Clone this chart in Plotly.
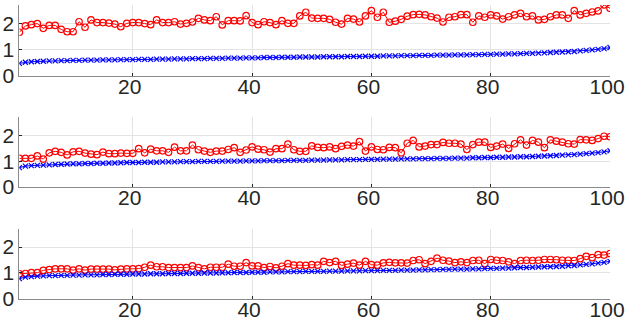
import plotly.graph_objects as go
from plotly.subplots import make_subplots

x = list(range(1, 101))

red_1 = [
    1.66, 1.90, 1.95, 1.99, 1.81, 1.92, 1.92, 1.77, 1.68, 1.68,
    2.06, 1.85, 2.13, 2.03, 2.03, 2.01, 1.97, 1.87, 2.00, 2.03,
    2.03, 1.99, 1.95, 2.13, 2.03, 2.03, 2.06, 1.97, 2.00, 2.05,
    2.19, 2.13, 2.10, 2.25, 1.94, 2.10, 2.10, 2.09, 2.29, 2.03,
    1.95, 2.06, 2.03, 1.95, 2.10, 2.00, 2.00, 2.28, 2.42, 2.20,
    2.19, 2.19, 2.15, 2.04, 1.97, 2.19, 2.16, 2.05, 2.28, 2.48,
    2.23, 2.42, 2.04, 2.08, 2.15, 2.27, 2.33, 2.34, 2.32, 2.25,
    2.20, 2.05, 2.23, 2.25, 2.33, 2.33, 2.04, 2.28, 2.23, 2.32,
    2.28, 2.16, 2.25, 2.32, 2.38, 2.25, 2.28, 2.13, 2.15, 2.25,
    2.32, 2.32, 2.19, 2.48, 2.32, 2.38, 2.43, 2.47, 2.70, 2.57,
]
blue_1 = [
    0.48, 0.52, 0.54, 0.55, 0.56, 0.57, 0.57, 0.58, 0.58, 0.59,
    0.59, 0.60, 0.60, 0.60, 0.61, 0.61, 0.61, 0.62, 0.62, 0.62,
    0.63, 0.63, 0.63, 0.64, 0.64, 0.64, 0.65, 0.65, 0.65, 0.66,
    0.66, 0.66, 0.67, 0.67, 0.67, 0.68, 0.68, 0.68, 0.69, 0.69,
    0.69, 0.70, 0.70, 0.70, 0.71, 0.71, 0.71, 0.72, 0.72, 0.72,
    0.72, 0.73, 0.73, 0.73, 0.73, 0.74, 0.74, 0.74, 0.75, 0.75,
    0.75, 0.76, 0.76, 0.76, 0.77, 0.77, 0.77, 0.78, 0.78, 0.78,
    0.79, 0.79, 0.79, 0.80, 0.80, 0.80, 0.81, 0.81, 0.82, 0.82,
    0.83, 0.83, 0.84, 0.84, 0.85, 0.86, 0.86, 0.87, 0.88, 0.89,
    0.90, 0.91, 0.92, 0.93, 0.95, 0.97, 0.99, 1.01, 1.04, 1.08,
]

red_2 = [
    1.11, 1.11, 1.11, 1.20, 1.08, 1.32, 1.38, 1.34, 1.24, 1.36,
    1.38, 1.31, 1.27, 1.25, 1.35, 1.29, 1.29, 1.31, 1.30, 1.30,
    1.48, 1.32, 1.46, 1.40, 1.40, 1.34, 1.54, 1.40, 1.40, 1.62,
    1.44, 1.39, 1.34, 1.39, 1.39, 1.45, 1.52, 1.34, 1.43, 1.55,
    1.46, 1.44, 1.35, 1.48, 1.48, 1.66, 1.44, 1.38, 1.38, 1.59,
    1.53, 1.52, 1.55, 1.48, 1.57, 1.62, 1.58, 1.75, 1.39, 1.55,
    1.45, 1.44, 1.53, 1.52, 1.32, 1.69, 1.80, 1.55, 1.58, 1.64,
    1.64, 1.72, 1.69, 1.69, 1.66, 1.45, 1.64, 1.73, 1.73, 1.53,
    1.58, 1.66, 1.49, 1.67, 1.82, 1.62, 1.80, 1.73, 1.52, 1.82,
    1.77, 1.73, 1.67, 1.66, 1.83, 1.82, 1.80, 1.87, 1.96, 1.94,
]
blue_2 = [
    0.75, 0.81, 0.83, 0.84, 0.85, 0.86, 0.87, 0.88, 0.89, 0.90,
    0.90, 0.91, 0.91, 0.92, 0.92, 0.93, 0.93, 0.94, 0.95, 0.95,
    0.95, 0.96, 0.96, 0.96, 0.97, 0.97, 0.97, 0.98, 0.98, 0.98,
    0.99, 0.99, 0.99, 0.99, 1.00, 1.00, 1.00, 1.00, 1.01, 1.01,
    1.01, 1.02, 1.02, 1.02, 1.02, 1.03, 1.03, 1.03, 1.03, 1.04,
    1.04, 1.04, 1.05, 1.05, 1.05, 1.06, 1.06, 1.06, 1.07, 1.07,
    1.07, 1.08, 1.08, 1.08, 1.09, 1.09, 1.09, 1.10, 1.10, 1.10,
    1.11, 1.11, 1.11, 1.12, 1.12, 1.12, 1.13, 1.13, 1.14, 1.14,
    1.15, 1.15, 1.16, 1.16, 1.17, 1.17, 1.18, 1.19, 1.20, 1.21,
    1.22, 1.23, 1.24, 1.25, 1.27, 1.29, 1.31, 1.33, 1.36, 1.40,
]

red_3 = [
    0.97, 0.98, 1.01, 1.01, 1.10, 1.13, 1.16, 1.16, 1.16, 1.11,
    1.16, 1.11, 1.15, 1.15, 1.15, 1.15, 1.12, 1.15, 1.16, 1.16,
    1.17, 1.22, 1.30, 1.24, 1.24, 1.21, 1.21, 1.21, 1.21, 1.27,
    1.21, 1.16, 1.22, 1.22, 1.22, 1.34, 1.26, 1.26, 1.40, 1.27,
    1.27, 1.21, 1.25, 1.20, 1.26, 1.36, 1.30, 1.30, 1.29, 1.32,
    1.30, 1.45, 1.40, 1.45, 1.29, 1.34, 1.38, 1.30, 1.45, 1.32,
    1.30, 1.39, 1.41, 1.39, 1.39, 1.38, 1.48, 1.51, 1.36, 1.45,
    1.57, 1.49, 1.46, 1.40, 1.43, 1.40, 1.48, 1.49, 1.36, 1.52,
    1.49, 1.48, 1.43, 1.36, 1.48, 1.49, 1.48, 1.49, 1.52, 1.52,
    1.51, 1.49, 1.49, 1.48, 1.55, 1.64, 1.59, 1.71, 1.69, 1.75,
]
blue_3 = [
    0.78, 0.84, 0.86, 0.88, 0.89, 0.90, 0.90, 0.91, 0.91, 0.92,
    0.92, 0.93, 0.93, 0.93, 0.94, 0.94, 0.95, 0.95, 0.95, 0.96,
    0.96, 0.96, 0.97, 0.97, 0.97, 0.98, 0.98, 0.98, 0.99, 0.99,
    0.99, 1.00, 1.00, 1.00, 1.01, 1.01, 1.02, 1.02, 1.02, 1.03,
    1.03, 1.03, 1.04, 1.04, 1.04, 1.05, 1.05, 1.05, 1.06, 1.06,
    1.06, 1.06, 1.07, 1.07, 1.07, 1.08, 1.08, 1.08, 1.09, 1.09,
    1.09, 1.10, 1.10, 1.10, 1.11, 1.11, 1.11, 1.12, 1.12, 1.13,
    1.13, 1.14, 1.14, 1.15, 1.15, 1.15, 1.16, 1.16, 1.17, 1.18,
    1.18, 1.19, 1.19, 1.20, 1.21, 1.21, 1.22, 1.23, 1.24, 1.24,
    1.25, 1.26, 1.28, 1.29, 1.31, 1.33, 1.35, 1.38, 1.41, 1.45,
]

x_ticks = [20, 40, 60, 80, 100]
y_ticks = [0, 1, 2]

panels = [(red_1, blue_1), (red_2, blue_2), (red_3, blue_3)]
y_domains = [[0.767, 0.985], [0.426, 0.641], [0.083, 0.298]]

TEXT_COLOR = "#262626"
LINE_COLOR = "#8a8a8a"
GRID_COLOR = "#e3e3e3"
FONT = dict(family="Liberation Sans, Arial", size=21, color=TEXT_COLOR)

fig = make_subplots(rows=3, cols=1)

for row, (red, blue) in enumerate(panels, start=1):
    fig.add_trace(
        go.Scatter(
            x=x, y=red, mode="lines+markers",
            line=dict(color="#ff0000", width=1),
            marker=dict(symbol="circle-open", size=6.5, color="#ff0000",
                        line=dict(width=1.2)),
        ),
        row=row, col=1,
    )
    fig.add_trace(
        go.Scatter(
            x=x, y=blue, mode="lines+markers",
            line=dict(color="#0000ff", width=1),
            marker=dict(symbol="x-thin-open", size=5, color="#0000ff",
                        line=dict(width=1.2, color="#0000ff")),
        ),
        row=row, col=1,
    )
    fig.update_xaxes(
        domain=[0.031, 0.9745], range=[1, 100], automargin=False,
        tickvals=x_ticks, ticks="inside", ticklen=3, tickcolor=TEXT_COLOR,
        showgrid=True, gridcolor=GRID_COLOR, zeroline=False,
        showline=True, linecolor=LINE_COLOR, linewidth=1,
        tickfont=FONT, ticklabelstandoff=-8, ticklabelshift=-3,
        ticklabeloverflow="allow",
        row=row, col=1,
    )
    fig.update_yaxes(
        domain=y_domains[row - 1], range=[0, 2.7], automargin=False,
        tickvals=y_ticks, ticks="inside", ticklen=3, tickcolor=TEXT_COLOR,
        showgrid=True, gridcolor=GRID_COLOR, zeroline=False,
        showline=True, linecolor=LINE_COLOR, linewidth=1,
        tickfont=FONT, ticklabelstandoff=0, ticklabeloverflow="allow",
        row=row, col=1,
    )

fig.update_layout(
    width=626, height=326,
    margin=dict(l=0, r=0, t=0, b=0),
    showlegend=False,
    hovermode=False,
    plot_bgcolor="white",
    paper_bgcolor="white",
)

# drop the browser's default 8px body margin so the figure sits at the page corner
fig.write_html(
    "out.html",
    config={"displayModeBar": False},
    post_script="document.body.style.margin = '0';",
)
